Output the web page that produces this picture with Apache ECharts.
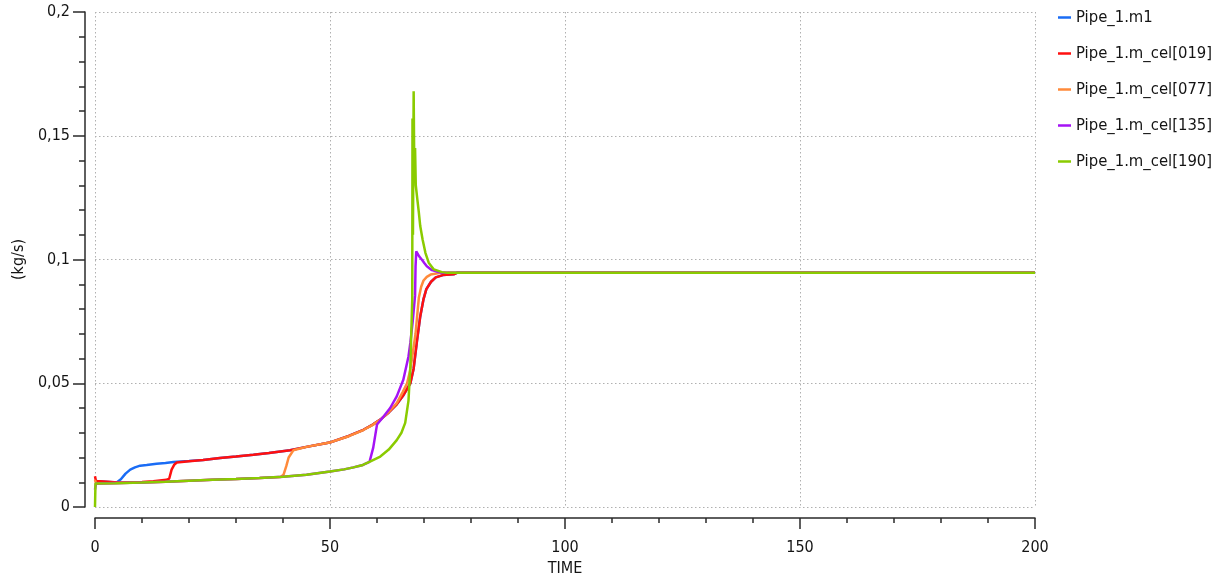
<!DOCTYPE html>
<html>
<head>
<meta charset="utf-8">
<title>Pipe_1 mass flow</title>
<script src="https://cdn.jsdelivr.net/npm/echarts@6/dist/echarts.min.js"></script>
<style>
  html, body { margin: 0; padding: 0; background: #ffffff; }
  #chart { width: 1232px; height: 577px; }
</style>
</head>
<body>
<div id="chart"></div>
<script>
// Mass flow (kg/s) versus TIME for the inlet and four pipe cells: [time, value]
const seriesNames = ['Pipe_1.m1', 'Pipe_1.m_cel[019]', 'Pipe_1.m_cel[077]', 'Pipe_1.m_cel[135]', 'Pipe_1.m_cel[190]'];
const seriesColors = ['#1a6cf5', '#ff1010', '#ff8a3a', '#a513f5', '#8acb00'];

const pipeM1 = [
  [0, 0.0105], [0.3, 0.0099], [4.6, 0.0099], [5.5, 0.0112], [6.5, 0.0135], [7.5, 0.0151],
  [8.5, 0.0160], [9.6, 0.0167], [11, 0.0170], [13.1, 0.0175], [15, 0.0178], [16.7, 0.0182],
  [20, 0.0186], [23, 0.0190], [26.6, 0.0198], [30, 0.0204], [33.7, 0.0211], [37, 0.0218],
  [41.5, 0.0229], [45, 0.0243], [50.2, 0.0262], [54, 0.0287], [57.1, 0.0312], [59, 0.0332],
  [60.7, 0.0353], [62.5, 0.0382], [64.2, 0.0415], [65.5, 0.0448], [67.1, 0.0500], [67.8, 0.0560],
  [68.5, 0.0670], [69.2, 0.0770], [69.9, 0.0840], [70.5, 0.0880], [71.5, 0.0910], [72.5, 0.0928],
  [74, 0.0937], [76.3, 0.0940], [77, 0.0946], [200, 0.0946]
];

const pipeCel019 = [
  [0, 0.0124], [0.2, 0.0105], [0.5, 0.0099], [5, 0.0099], [10, 0.0101], [12.4, 0.0104],
  [15.2, 0.0110], [15.8, 0.0115], [16.3, 0.0151], [16.9, 0.0172], [17.4, 0.0180], [20, 0.0185],
  [23, 0.0190], [26.6, 0.0198], [30, 0.0204], [33.7, 0.0211], [37, 0.0218], [41.5, 0.0229],
  [45, 0.0243], [50.2, 0.0262], [54, 0.0287], [57.1, 0.0312], [59, 0.0332], [60.7, 0.0353],
  [62.5, 0.0382], [64.2, 0.0415], [65.5, 0.0448], [67.1, 0.0500], [67.8, 0.0560], [68.5, 0.0670],
  [69.2, 0.0770], [69.9, 0.0840], [70.5, 0.0880], [71.5, 0.0910], [72.5, 0.0928], [74, 0.0937],
  [76.3, 0.0940], [77, 0.0946], [200, 0.0946]
];

const pipeCel077 = [
  [0, 0.0110], [0.2, 0.0095], [5, 0.0097], [10, 0.0099], [15, 0.0102], [20, 0.0106],
  [25, 0.0110], [30, 0.0113], [35, 0.0117], [39.5, 0.0121], [40.1, 0.0130], [40.7, 0.0165],
  [41.2, 0.0200], [42.2, 0.0229], [45, 0.0243], [50.2, 0.0262], [54, 0.0286], [57.1, 0.0311],
  [59, 0.0331], [60.7, 0.0352], [62.5, 0.0384], [64.2, 0.0420], [65.5, 0.0465], [66.4, 0.0500],
  [67.1, 0.0555], [67.6, 0.0620], [68.2, 0.0700], [68.9, 0.0845], [69.4, 0.0890], [69.9, 0.0915],
  [70.6, 0.0930], [71.4, 0.0939], [73.5, 0.0946], [200, 0.0946]
];

const pipeCel135 = [
  [0, 0.0070], [0.2, 0.0095], [5, 0.0097], [10, 0.0099], [15, 0.0102], [20, 0.0106],
  [25, 0.0110], [30, 0.0113], [35, 0.0117], [40, 0.0122], [45, 0.0130], [50, 0.0143],
  [53, 0.0152], [55, 0.0160], [57, 0.0170], [58.4, 0.0182], [59.2, 0.0240], [60, 0.0333],
  [61.4, 0.0366], [62.8, 0.0400], [64.2, 0.0447], [65.6, 0.0514], [66.7, 0.0608], [67.1, 0.0664],
  [67.6, 0.0750], [68.1, 0.0855], [68.2, 0.0970], [68.35, 0.1033], [68.5, 0.1030], [69, 0.1012],
  [69.6, 0.0998], [70.1, 0.0985], [70.6, 0.0973], [71.7, 0.0957], [73.1, 0.0949], [74, 0.0946],
  [200, 0.0946]
];

const pipeCel190 = [
  [0, 0], [0.1, 0.0095], [4.5, 0.0096], [10, 0.0099], [15, 0.0102], [20, 0.0106],
  [25, 0.0110], [30, 0.0113], [35, 0.0117], [40, 0.0122], [45, 0.0130], [50, 0.0143],
  [53, 0.0152], [55, 0.0160], [57, 0.0170], [58.6, 0.0184], [60.7, 0.0204], [62.5, 0.0232],
  [64.2, 0.0270], [65.2, 0.0300], [66, 0.0340], [66.7, 0.0430], [67.1, 0.0570], [67.5, 0.0840],
  [67.55, 0.1570], [67.65, 0.1100], [67.8, 0.1680], [67.95, 0.1320], [68.1, 0.1450], [68.25, 0.1300],
  [68.6, 0.1240], [68.9, 0.1190], [69.2, 0.1135], [69.7, 0.1081], [70.3, 0.1027], [71, 0.0987],
  [72.1, 0.0960], [73.8, 0.0949], [75, 0.0946], [200, 0.0946]
];

const seriesData = [pipeM1, pipeCel019, pipeCel077, pipeCel135, pipeCel190];

// Axis ranges and tick spacing
const xRange = [0, 200];
const xStep = 50;
const yRange = [0, 0.2];
const yStep = 0.05;

const FONT = '"DejaVu Sans Condensed", "DejaVu Sans", sans-serif';
const INK = '#141414';
const AXIS = '#2a2a2a';

const chart = echarts.init(document.getElementById('chart'), null, { renderer: 'canvas' });

const commaFmt = v => String(+v.toFixed(4)).replace('.', ',');

chart.setOption({
  animation: false,
  backgroundColor: '#ffffff',
  color: seriesColors,
  grid: { left: 95, top: 12, width: 940, height: 495, containLabel: false, outerBoundsMode: 'none' },
  legend: {
    orient: 'vertical',
    left: 1058,
    top: 9,
    padding: 0,
    icon: 'rect',
    itemWidth: 13,
    itemHeight: 2.5,
    itemGap: 19,
    textStyle: { fontFamily: FONT, fontSize: 16.5, color: INK },
    data: seriesNames
  },
  xAxis: {
    type: 'value',
    min: xRange[0],
    max: xRange[1],
    interval: xStep,
    offset: 11,
    name: 'TIME',
    nameLocation: 'middle',
    nameGap: 41,
    nameTextStyle: { fontFamily: FONT, fontSize: 16, color: INK },
    axisLine: { show: true, onZero: false, lineStyle: { color: AXIS, width: 1.5 } },
    axisTick: { show: true, length: 11, lineStyle: { color: AXIS, width: 1.5 } },
    minorTick: { show: true, splitNumber: 5, length: 5, lineStyle: { color: AXIS, width: 1.5 } },
    axisLabel: { fontFamily: FONT, fontSize: 16, color: INK, margin: 22, formatter: commaFmt },
    splitLine: { show: true, lineStyle: { color: '#b0b0b0', width: 1, type: [1.5, 2.5] } }
  },
  yAxis: {
    type: 'value',
    min: yRange[0],
    max: yRange[1],
    interval: yStep,
    offset: 10,
    name: '(kg/s)',
    nameLocation: 'middle',
    nameRotate: 90,
    nameGap: 56,
    nameTextStyle: { fontFamily: FONT, fontSize: 16, color: INK },
    axisLine: { show: true, onZero: false, lineStyle: { color: AXIS, width: 1.5 } },
    axisTick: { show: true, length: 12, lineStyle: { color: AXIS, width: 1.5 } },
    minorTick: { show: true, splitNumber: 5, length: 6, lineStyle: { color: AXIS, width: 1.5 } },
    axisLabel: { fontFamily: FONT, fontSize: 16, color: INK, margin: 15, formatter: commaFmt },
    splitLine: { show: true, lineStyle: { color: '#b0b0b0', width: 1, type: [1.5, 2.5] } }
  },
  series: seriesNames.map((name, i) => ({
    name,
    type: 'line',
    data: seriesData[i],
    showSymbol: false,
    symbol: 'none',
    smooth: false,
    clip: true,
    lineStyle: { width: 2.5, color: seriesColors[i] },
    itemStyle: { color: seriesColors[i] },
    z: 2 + i
  }))
});
</script>
</body>
</html>
